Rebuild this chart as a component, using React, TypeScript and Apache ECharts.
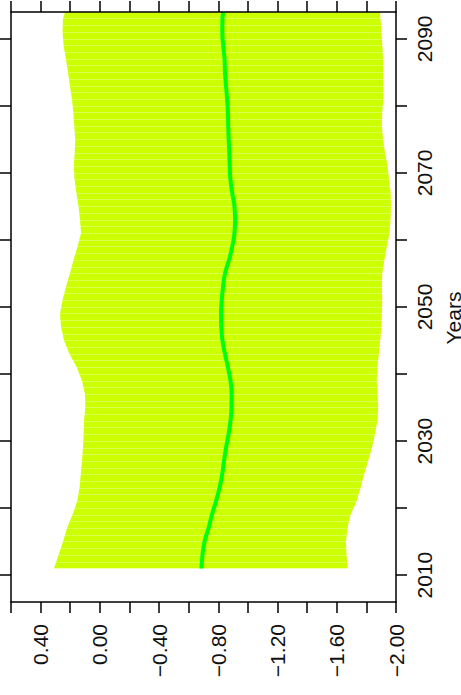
import React, { useEffect, useRef } from 'react';
import * as echarts from 'echarts';

const years = [
  2011, 2013, 2015, 2017, 2019, 2021, 2023, 2025, 2027, 2029,
  2031, 2033, 2035, 2037, 2039, 2041, 2043, 2045, 2047, 2049,
  2051, 2053, 2055, 2057, 2059, 2061, 2063, 2065, 2067, 2069,
  2071, 2073, 2075, 2077, 2079, 2081, 2083, 2085, 2087, 2089,
  2091, 2093, 2094,
];
const upper = [
  0.310, 0.279, 0.249, 0.222, 0.185, 0.154, 0.137, 0.129, 0.121, 0.114,
  0.110, 0.107, 0.098, 0.100, 0.121, 0.156, 0.205, 0.242, 0.262, 0.269,
  0.252, 0.229, 0.202, 0.178, 0.151, 0.127, 0.134, 0.144, 0.158, 0.171,
  0.176, 0.170, 0.166, 0.173, 0.179, 0.188, 0.202, 0.215, 0.229, 0.245,
  0.252, 0.249, 0.235,
];
const lower = [
  -1.674, -1.666, -1.662, -1.672, -1.693, -1.733, -1.760, -1.784, -1.811, -1.838,
  -1.857, -1.874, -1.880, -1.875, -1.870, -1.874, -1.884, -1.893, -1.902, -1.905,
  -1.907, -1.905, -1.907, -1.921, -1.938, -1.956, -1.963, -1.966, -1.964, -1.953,
  -1.943, -1.926, -1.912, -1.905, -1.907, -1.914, -1.914, -1.913, -1.912, -1.908,
  -1.902, -1.895, -1.892,
];
const mean = [
  -0.686, -0.693, -0.707, -0.734, -0.757, -0.784, -0.808, -0.826, -0.838, -0.852,
  -0.869, -0.882, -0.889, -0.890, -0.882, -0.865, -0.845, -0.828, -0.820, -0.818,
  -0.823, -0.832, -0.845, -0.872, -0.894, -0.909, -0.913, -0.909, -0.894, -0.882,
  -0.877, -0.874, -0.870, -0.867, -0.865, -0.859, -0.852, -0.845, -0.842, -0.833,
  -0.827, -0.828, -0.834,
];
const yearTicks = [2010, 2020, 2030, 2040, 2050, 2060, 2070, 2080, 2090];
const yearLabels = [2010, 2030, 2050, 2070, 2090];
const valueLabels = [0.4, 0.0, -0.4, -0.8, -1.2, -1.6, -2.0];

const FONT = '"Liberation Sans", Arial, Helvetica, sans-serif';
const AXIS_LINE = { show: true, onZero: false, lineStyle: { color: '#000', width: 1.5 } };
const TICK_STYLE = { color: '#000', width: 1.5 };

function fmtValue(v: number): string {
  const k = Math.round(v * 10);
  if (!valueLabels.some((l) => Math.round(l * 10) === k)) return '';
  const s = Math.abs(v).toFixed(2);
  return v < -1e-9 ? '\u2212' + s : s;
}

export default function App() {
  const ref = useRef<HTMLDivElement>(null);
  useEffect(() => {
    if (!ref.current) return;
    const chart = echarts.init(ref.current, undefined, { renderer: 'svg' });
    const valueAxisBase = {
      type: 'value',
      min: -2.0,
      max: 0.6,
      interval: 0.2,
      inverse: true,
      axisLine: AXIS_LINE,
      splitLine: { show: false },
      z: 6,
    };
    const yearAxisBase = {
      type: 'value',
      min: 2006,
      max: 2094,
      axisLine: AXIS_LINE,
      splitLine: { show: false },
      z: 6,
    };
    chart.setOption({
      animation: false,
      backgroundColor: '#fff',
      grid: {
        left: 11,
        right: 65,
        top: 12,
        bottom: 93,
        containLabel: false,
        outerBoundsMode: 'none',
      },
      xAxis: [
        {
          ...valueAxisBase,
          position: 'bottom',
          axisTick: { show: true, length: 11, lineStyle: TICK_STYLE },
          axisLabel: {
            show: true,
            rotate: 90,
            margin: 22,
            fontSize: 21,
            fontFamily: FONT,
            color: '#111',
            formatter: fmtValue,
          },
        },
        {
          ...valueAxisBase,
          position: 'top',
          axisTick: { show: true, length: 11, lineStyle: TICK_STYLE },
          axisLabel: { show: false },
        },
      ],
      yAxis: [
        {
          ...yearAxisBase,
          position: 'right',
          name: 'Years',
          nameLocation: 'middle',
          nameRotate: 90,
          nameGap: 47,
          nameTextStyle: {
            fontSize: 21,
            lineHeight: 14,
            fontFamily: FONT,
            color: '#111',
            padding: [0, 22, 0, 0],
          },
          axisTick: { show: true, length: 11, customValues: yearTicks, lineStyle: TICK_STYLE },
          axisLabel: {
            show: true,
            rotate: 90,
            margin: 18,
            fontSize: 21,
            fontFamily: FONT,
            color: '#111',
            customValues: yearLabels,
            formatter: (v: number) => String(v),
          },
        },
        {
          ...yearAxisBase,
          position: 'left',
          axisTick: { show: true, length: 11, customValues: yearTicks, lineStyle: TICK_STYLE },
          axisLabel: { show: false },
        },
        {
          type: 'value',
          min: 2006,
          max: 2094,
          interval: 1,
          position: 'left',
          axisLine: { show: false, onZero: false },
          axisTick: { show: false },
          axisLabel: { show: false },
          splitLine: { show: true, lineStyle: { color: 'rgba(255,255,255,0.3)', width: 1 } },
          z: 3,
        },
      ],
      series: [
        {
          type: 'custom',
          xAxisIndex: 0,
          yAxisIndex: 0,
          z: 2,
          clip: true,
          silent: true,
          encode: { x: 0, y: 1 },
          data: [[upper[0], years[0]]],
          renderItem: (params: any, api: any) => {
            if (params.dataIndex !== 0) return null;
            const pts: number[][] = [];
            for (let i = 0; i < years.length; i++) pts.push(api.coord([upper[i], years[i]]));
            for (let i = years.length - 1; i >= 0; i--) pts.push(api.coord([lower[i], years[i]]));
            return {
              type: 'polygon',
              shape: { points: pts },
              style: { fill: '#ccff00', stroke: 'none' },
            };
          },
        },
        {
          type: 'line',
          xAxisIndex: 0,
          yAxisIndex: 0,
          z: 4,
          smooth: true,
          symbol: 'none',
          clip: true,
          lineStyle: { color: '#00ff00', width: 4 },
          data: mean.map((v, i) => [v, years[i]]),
        },
      ],
    });
    return () => chart.dispose();
  }, []);
  return (
    <div
      ref={ref}
      style={{ position: 'absolute', left: 0, top: 0, width: 461, height: 695 }}
    />
  );
}
